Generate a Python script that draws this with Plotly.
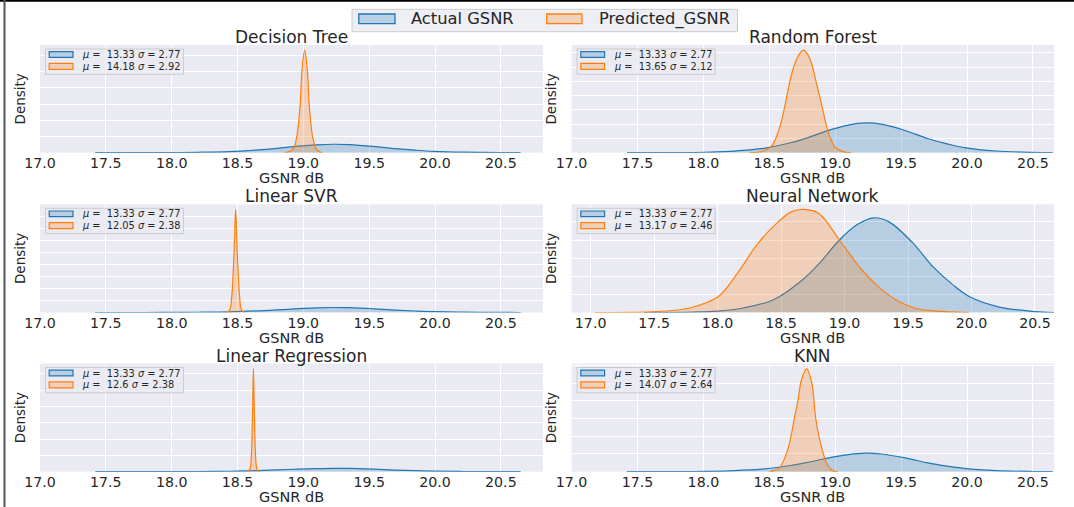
import plotly.graph_objects as go

W, H = 1074, 507

# ---------------- data ----------------
models = ["Decision Tree", "Random Forest", "Linear SVR",
          "Neural Network", "Linear Regression", "KNN"]

actual_mu = [13.33, 13.33, 13.33, 13.33, 13.33, 13.33]
actual_sigma = [2.77, 2.77, 2.77, 2.77, 2.77, 2.77]
pred_mu = [14.18, 13.65, 12.05, 13.17, 12.6, 14.07]
pred_sigma = [2.92, 2.12, 2.38, 2.46, 2.38, 2.64]

x_tick_vals = [17.0, 17.5, 18.0, 18.5, 19.0, 19.5, 20.0, 20.5]

# density of the actual GSNR (same in every panel)
actual_x = [17.42, 17.8, 18.0, 18.2, 18.44, 18.66, 18.8, 18.96, 19.1, 19.23,
            19.35, 19.53, 19.70, 19.85, 19.99, 20.22, 20.5, 20.65]
actual_y = [0.0, 0.005, 0.015, 0.05, 0.14, 0.35, 0.54, 0.80, 0.97, 1.045,
            1.0, 0.78, 0.50, 0.31, 0.17, 0.06, 0.01, 0.0]

# densities of the predicted GSNR, one per model
dt_pred_x = [18.86, 18.92, 18.95, 18.975, 18.99, 19.01, 19.03, 19.045, 19.07, 19.10, 19.14]
dt_pred_y = [0.0, 0.4, 2.0, 5.8, 10.2, 12.65, 10.2, 5.8, 2.0, 0.4, 0.0]

rf_pred_x = [18.35, 18.45, 18.52, 18.56, 18.60, 18.64, 18.67, 18.70, 18.74, 18.76,
             18.79, 18.82, 18.86, 18.89, 18.95, 19.0, 19.06, 19.12]
rf_pred_y = [0.0, 0.05, 0.25, 0.63, 1.26, 2.14, 2.77, 3.2, 3.54, 3.6,
             3.46, 3.14, 2.39, 1.82, 0.69, 0.19, 0.04, 0.0]

svr_pred_x = [18.41, 18.44, 18.455, 18.47, 18.478, 18.486, 18.494, 18.502, 18.517, 18.53, 18.56]
svr_pred_y = [0.0, 0.5, 3.0, 10.0, 16.0, 21.5, 16.0, 10.0, 3.0, 0.5, 0.0]

nn_pred_x = [17.03, 17.51, 17.78, 18.0, 18.16, 18.3, 18.44, 18.58, 18.68, 18.80,
             18.96, 19.13, 19.27, 19.41, 19.55, 19.68, 19.98]
nn_pred_y = [0.0, 0.01, 0.05, 0.17, 0.44, 0.73, 0.95, 1.11, 1.137, 1.09,
             0.80, 0.48, 0.28, 0.135, 0.05, 0.02, 0.0]

lr_pred_x = [18.575, 18.595, 18.605, 18.612, 18.617, 18.621, 18.625, 18.630, 18.637, 18.647, 18.667]
lr_pred_y = [0.0, 1.0, 5.0, 14.0, 24.0, 31.6, 24.0, 14.0, 5.0, 1.0, 0.0]

knn_pred_x = [18.50, 18.534, 18.574, 18.639, 18.692, 18.718, 18.744, 18.783,
              18.823, 18.854, 18.902, 18.941, 18.980, 19.02]
knn_pred_y = [0.0, 0.06, 0.19, 1.22, 3.1, 4.05, 5.18, 5.82,
              4.98, 2.92, 1.22, 0.38, 0.06, 0.0]

pred_x = [dt_pred_x, rf_pred_x, svr_pred_x, nn_pred_x, lr_pred_x, knn_pred_x]
pred_y = [dt_pred_y, rf_pred_y, svr_pred_y, nn_pred_y, lr_pred_y, knn_pred_y]

# ---------------- style / layout ----------------
FONT = "DejaVu Sans"
TXT = "#262626"
BLUE = "#1f77b4"
ORANGE = "#ff7f0e"
BLUE_FILL = "rgba(31,119,180,0.25)"
ORANGE_FILL = "rgba(255,127,14,0.25)"
BG = "#EAEAF2"

# pixel rectangles of the six panels (left, right, top, bottom)
cols_px = [(40, 543), (571.6, 1054)]
rows_px = [(45, 152.7), (204.3, 312.5), (363.5, 471.7)]
x_ranges = [[17.0, 20.82], [17.0, 20.66], [17.0, 20.82],
            [16.85, 20.65], [17.0, 20.82], [17.0, 20.66]]
y_dticks = [2, 0.5, 2.5, 0.2, 5, 1]


def px_x(p):
    return p / W


def px_y(p):
    return 1 - p / H


fig = go.Figure()
shapes = []
annotations = []
layout_axes = {}

for i in range(6):
    r, c = divmod(i, 2)
    L, R = cols_px[c]
    T, B = rows_px[r]
    sfx = "" if i == 0 else str(i + 1)

    fig.add_trace(go.Scatter(
        x=actual_x, y=actual_y, xaxis="x" + sfx, yaxis="y" + sfx,
        mode="lines", line=dict(color=BLUE, width=1.2, shape="spline"),
        fill="tozeroy", fillcolor=BLUE_FILL, name="Actual GSNR",
        showlegend=False, hoverinfo="x+y"))
    fig.add_trace(go.Scatter(
        x=pred_x[i], y=pred_y[i], xaxis="x" + sfx, yaxis="y" + sfx,
        mode="lines", line=dict(color=ORANGE, width=1.2, shape="spline"),
        fill="tozeroy", fillcolor=ORANGE_FILL, name="Predicted_GSNR",
        showlegend=False, hoverinfo="x+y"))

    ytop = 1.05 * max(max(actual_y), max(pred_y[i]))

    layout_axes["xaxis" + sfx] = dict(
        domain=[px_x(L), px_x(R)], anchor="y" + sfx, range=x_ranges[i],
        tickvals=x_tick_vals, ticktext=[f"{v:.1f}" for v in x_tick_vals],
        showgrid=True, gridcolor="white", gridwidth=1.3, zeroline=False,
        showline=False, ticks="", automargin=False,
        tickfont=dict(family=FONT, size=14.2, color=TXT),
    )
    layout_axes["yaxis" + sfx] = dict(
        domain=[px_y(B), px_y(T)], anchor="x" + sfx, range=[0, ytop],
        dtick=y_dticks[i], tick0=0, showticklabels=False,
        showgrid=True, gridcolor="white", gridwidth=1.3, zeroline=False,
        showline=False, ticks="", automargin=False,
        title=dict(text="Density", font=dict(family=FONT, size=13.5, color=TXT), standoff=10),
    )

    # x-axis label
    annotations.append(dict(
        text="GSNR dB", x=(px_x(L) + px_x(R)) / 2, y=px_y(B + 25),
        xref="paper", yref="paper", xanchor="center", yanchor="middle",
        showarrow=False, font=dict(family=FONT, size=14.5, color=TXT)))

    # panel title
    annotations.append(dict(
        text=models[i], x=(px_x(L) + px_x(R)) / 2, y=px_y(T - 8.0),
        xref="paper", yref="paper", xanchor="center", yanchor="middle",
        showarrow=False, font=dict(family=FONT, size=17, color=TXT)))

    # per-panel legend box
    shapes.append(dict(type="rect", xref="paper", yref="paper",
                       x0=px_x(L + 5.5), x1=px_x(L + 143.5),
                       y0=px_y(T + 29.3), y1=px_y(T + 4),
                       fillcolor="rgba(234,234,242,0.8)",
                       line=dict(color="#cccccc", width=1), layer="above"))
    entries = [(BLUE, BLUE_FILL, actual_mu[i], actual_sigma[i], 6.7, 12.3),
               (ORANGE, ORANGE_FILL, pred_mu[i], pred_sigma[i], 18.3, 24.3)]
    for col, fcol, mu, sg, y0, y1 in entries:
        shapes.append(dict(type="rect", xref="paper", yref="paper",
                           x0=px_x(L + 9.2), x1=px_x(L + 33),
                           y0=px_y(T + y1), y1=px_y(T + y0),
                           fillcolor=fcol, line=dict(color=col, width=1.2),
                           layer="above"))
        annotations.append(dict(
            text=f"<i>μ</i> =  {mu:g} <i>σ</i> = {sg:g}",
            x=px_x(L + 40), y=px_y(T + (y0 + y1) / 2),
            xref="paper", yref="paper", xanchor="left", yanchor="middle",
            showarrow=False, font=dict(family=FONT, size=9.8, color=TXT)))

# top figure legend
shapes.append(dict(type="rect", xref="paper", yref="paper",
                   x0=px_x(352), x1=px_x(737.5), y0=px_y(31.7), y1=px_y(9.3),
                   fillcolor="rgba(234,234,242,0.8)",
                   line=dict(color="#cccccc", width=1), layer="above"))
top_items = [("Actual GSNR", BLUE, BLUE_FILL, 358.8, 395, 408.7),
             ("Predicted_GSNR", ORANGE, ORANGE_FILL, 546.7, 582, 596.6)]
for name, col, fcol, p0, p1, tx in top_items:
    shapes.append(dict(type="rect", xref="paper", yref="paper",
                       x0=px_x(p0), x1=px_x(p1), y0=px_y(23.6), y1=px_y(14.0),
                       fillcolor=fcol, line=dict(color=col, width=1.3),
                       layer="above"))
    annotations.append(dict(
        text=name, x=px_x(tx), y=px_y(18.8), xref="paper", yref="paper",
        xanchor="left", yanchor="middle", showarrow=False,
        font=dict(family=FONT, size=16.3, color=TXT)))

# figure frame lines (top and left)
shapes.append(dict(type="line", xref="paper", yref="paper",
                   x0=0, x1=1, y0=px_y(0.5), y1=px_y(0.5),
                   line=dict(color="black", width=2.5), layer="above"))
shapes.append(dict(type="line", xref="paper", yref="paper",
                   x0=px_x(4.5), x1=px_x(4.5), y0=0, y1=1,
                   line=dict(color="#555555", width=2), layer="above"))

fig.update_layout(
    template="none",
    width=W, height=H,
    margin=dict(l=0, r=0, t=0, b=0),
    paper_bgcolor="white",
    plot_bgcolor=BG,
    showlegend=False,
    font=dict(family=FONT, color=TXT),
    shapes=shapes,
    annotations=annotations,
    **layout_axes,
)

fig.write_html("out.html")
